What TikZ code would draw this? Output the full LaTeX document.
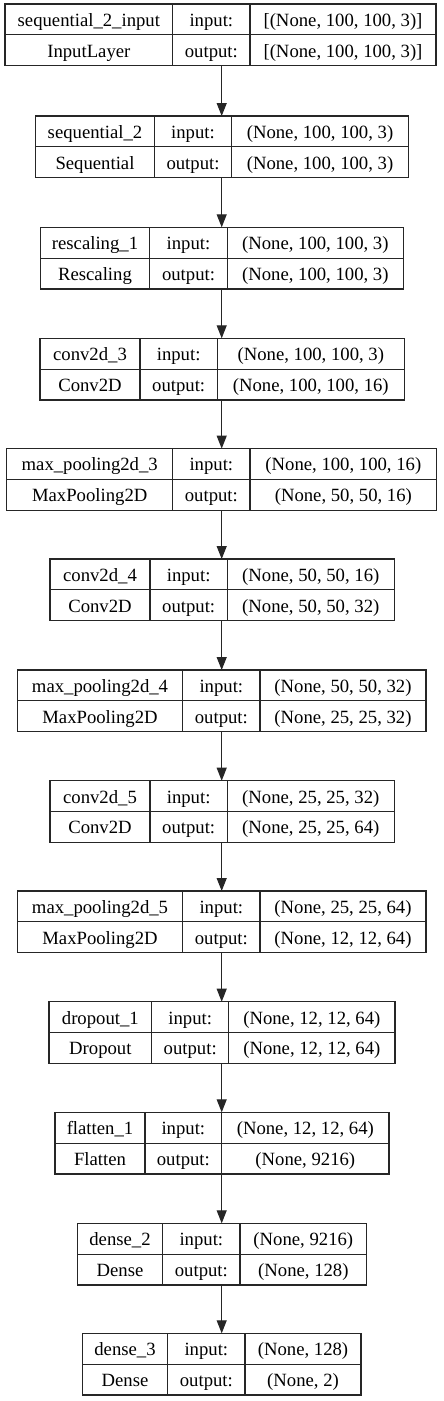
\documentclass[tikz,border=0pt]{standalone}
\usepackage{fontspec}
\setmainfont{Liberation Serif}
\usetikzlibrary{arrows.meta,calc}
\begin{document}
\begin{tikzpicture}[x=1pt,y=-1pt,
  lay/.style={draw=black!85, line width=1.1pt, inner sep=0pt, outer sep=0pt, anchor=north west, minimum height=61.7pt},
  cell/.style={draw=black!85, line width=1.1pt},
  txt/.style={font=\fontsize{18.7}{21}\selectfont, inner sep=0pt, anchor=base, text=black},
  arr/.style={draw=black!85, line width=1.1pt, -{Triangle[length=13pt,width=10pt]}}]
\useasboundingbox (0,0) rectangle (444,1401);
\fill[white] (0,0) rectangle (444,1401);
\coordinate (ax) at (221.7,0);
\foreach \ix/\ty/\xa/\xb/\xc/\xd/\nm/\cl/\ii/\oo in {
 1/4/5/172.7/250/436/{sequential\_2\_input}/{InputLayer}/{[(None, 100, 100, 3)]}/{[(None, 100, 100, 3)]},
 2/116/35.7/154.3/231.7/408.3/{sequential\_2}/{Sequential}/{(None, 100, 100, 3)}/{(None, 100, 100, 3)},
 3/227.3/40.3/149.7/227.3/403.3/{rescaling\_1}/{Rescaling}/{(None, 100, 100, 3)}/{(None, 100, 100, 3)},
 4/338.3/40/140/217.3/404.3/{conv2d\_3}/{Conv2D}/{(None, 100, 100, 3)}/{(None, 100, 100, 16)},
 5/448.6/6.7/172.7/250/436.7/{max\_pooling2d\_3}/{MaxPooling2D}/{(None, 100, 100, 16)}/{(None, 50, 50, 16)},
 6/559/50/150/227.3/394.3/{conv2d\_4}/{Conv2D}/{(None, 50, 50, 16)}/{(None, 50, 50, 32)},
 7/670/17.3/182.7/260/426/{max\_pooling2d\_4}/{MaxPooling2D}/{(None, 50, 50, 32)}/{(None, 25, 25, 32)},
 8/780.7/50/150/227.3/394.3/{conv2d\_5}/{Conv2D}/{(None, 25, 25, 32)}/{(None, 25, 25, 64)},
 9/891/17.3/182.7/260/426/{max\_pooling2d\_5}/{MaxPooling2D}/{(None, 25, 25, 64)}/{(None, 12, 12, 64)},
 10/1001.7/49/151.7/228.7/395/{dropout\_1}/{Dropout}/{(None, 12, 12, 64)}/{(None, 12, 12, 64)},
 11/1112.3/55/145/221.7/389/{flatten\_1}/{Flatten}/{(None, 12, 12, 64)}/{(None, 9216)},
 12/1223.3/77.3/162.7/240/366.7/{dense\_2}/{Dense}/{(None, 9216)}/{(None, 128)},
 13/1333.3/82.3/167.7/245/361/{dense\_3}/{Dense}/{(None, 128)}/{(None, 2)}%
}{
  \node[lay, minimum width={(\xd-\xa)*1pt}] (L\ix) at (\xa,\ty) {};
  \draw[cell] (\xb,\ty) -- (\xb,\ty+61.7) (\xc,\ty) -- (\xc,\ty+61.7) (\xa,\ty+30.85) -- (\xd,\ty+30.85);
  \node[txt] (N\ix) at ({(\xa+\xb)/2},\ty+22.3) {\nm};
  \node[txt] (C\ix) at ({(\xa+\xb)/2},\ty+53.2) {\cl};
  \node[txt] (I\ix) at ({(\xb+\xc)/2},\ty+22.3) {input:};
  \node[txt] (O\ix) at ({(\xb+\xc)/2},\ty+53.2) {output:};
  \node[txt] (S\ix) at ({(\xc+\xd)/2},\ty+22.3) {\ii};
  \node[txt] (T\ix) at ({(\xc+\xd)/2},\ty+53.2) {\oo};
}
\foreach \p/\q in {1/2,2/3,3/4,4/5,5/6,6/7,7/8,8/9,9/10,10/11,11/12,12/13}{
  \draw[arr] (L\p.south -| ax) -- (L\q.north -| ax);
}
\end{tikzpicture}
\end{document}
